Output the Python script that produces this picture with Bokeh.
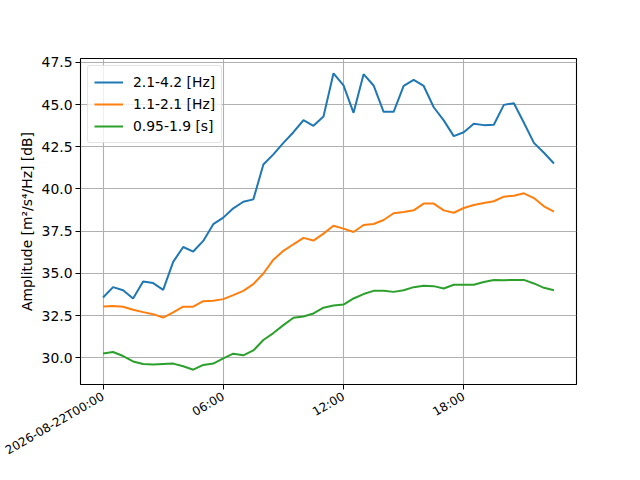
import numpy as np
import pandas as pd
from bokeh.plotting import figure
from bokeh.models import (ColumnDataSource, Range1d, FixedTicker, CustomJSTickFormatter,
                          SingleIntervalTicker, NumeralTickFormatter, Legend, LegendItem)
from bokeh.embed import file_html
from bokeh.resources import INLINE

start = "2026-08-22T00:00"
step_minutes = 30
tick_hours = [0, 6, 12, 18]
names = ["2.1-4.2 [Hz]", "1.1-2.1 [Hz]", "0.95-1.9 [s]"]
colors = ["#1f77b4", "#ff7f0e", "#2ca02c"]

band_a = [33.57, 34.18, 34.00, 33.51, 34.51, 34.42, 34.02, 35.68, 36.56, 36.29, 36.92, 37.91,
          38.30, 38.85, 39.24, 39.38, 41.45, 42.05, 42.73, 43.36, 44.07, 43.74, 44.29, 46.85,
          46.14, 44.51, 46.80, 46.13, 44.57, 44.57, 46.10, 46.46, 46.10, 44.84, 44.06, 43.13,
          43.36, 43.86, 43.78, 43.80, 44.98, 45.08, 43.92, 42.73, 42.14, 41.51]
band_b = [33.03, 33.07, 33.02, 32.84, 32.70, 32.58, 32.38, 32.68, 33.02, 33.02, 33.35, 33.37,
          33.47, 33.71, 33.96, 34.36, 34.99, 35.81, 36.33, 36.72, 37.10, 36.94, 37.35, 37.82,
          37.65, 37.45, 37.86, 37.92, 38.16, 38.56, 38.63, 38.73, 39.13, 39.13, 38.73, 38.59,
          38.87, 39.05, 39.17, 39.27, 39.54, 39.60, 39.74, 39.46, 38.97, 38.65]
band_c = [30.25, 30.34, 30.10, 29.78, 29.63, 29.59, 29.63, 29.65, 29.49, 29.29, 29.57, 29.65,
          29.96, 30.24, 30.14, 30.43, 31.05, 31.46, 31.93, 32.37, 32.44, 32.62, 32.96, 33.09,
          33.15, 33.51, 33.77, 33.96, 33.96, 33.90, 34.00, 34.18, 34.26, 34.24, 34.10, 34.32,
          34.32, 34.32, 34.49, 34.61, 34.59, 34.61, 34.61, 34.40, 34.14, 34.00]
series = [band_a, band_b, band_c]

times = pd.date_range(start, periods=len(band_a), freq=f"{step_minutes}min")
src = ColumnDataSource(dict(t=times, a=band_a, b=band_b, c=band_c))

t0 = times[0].value / 1e6
t1 = times[-1].value / 1e6
pad_x = 0.05 * (t1 - t0)
allv = band_a + band_b + band_c
ymin, ymax = min(allv), max(allv)
pad_y = 0.05 * (ymax - ymin)

FONT = "DejaVu Sans"
FS = "13.9px"

p = figure(width=632, height=472, x_axis_type="datetime", output_backend="svg",
           toolbar_location=None,
           x_range=Range1d(t0 - pad_x, t1 + pad_x),
           y_range=Range1d(ymin - pad_y, ymax + pad_y),
           min_border_left=80, min_border_right=56, min_border_top=58, min_border_bottom=88)
p.background_fill_color = "white"
p.border_fill_color = "white"
p.outline_line_color = "black"
p.outline_line_width = 1.1

renderers = []
for key, col in zip(["a", "b", "c"], colors):
    r = p.line("t", key, source=src, line_color=col, line_width=2.0)
    renderers.append(r)

legend = Legend(items=[LegendItem(label=n, renderers=[r]) for n, r in zip(names, renderers)],
                location="top_left")
legend.label_text_font = FONT
legend.label_text_font_size = FS
legend.label_text_color = "black"
legend.glyph_width = 29
legend.glyph_height = 20
legend.label_height = 20
legend.spacing = 2
legend.padding = 6
legend.margin = 7
legend.label_standoff = 10
legend.border_line_color = "#cccccc"
legend.border_line_width = 1
legend.background_fill_alpha = 0.8
legend.border_radius = 3
p.add_layout(legend)

tick_ms = [t0 + h * 3600 * 1000 for h in tick_hours]
p.xaxis.ticker = FixedTicker(ticks=tick_ms)
p.xaxis.formatter = CustomJSTickFormatter(code="""
const d = new Date(tick);
const hh = String(d.getUTCHours()).padStart(2, '0');
const mm = String(d.getUTCMinutes()).padStart(2, '0');
if (index == 0) { return d.toISOString().slice(0, 10) + 'T' + hh + ':' + mm; }
return hh + ':' + mm;
""")
p.xaxis.major_label_orientation = np.pi / 6

p.yaxis.ticker = SingleIntervalTicker(interval=2.5)
p.yaxis.formatter = NumeralTickFormatter(format="0.0")
p.yaxis.axis_label = "Amplitude [m²/s⁴/Hz] [dB]"
p.yaxis.axis_label_text_font = FONT
p.yaxis.axis_label_text_font_size = FS
p.yaxis.axis_label_text_font_style = "normal"
p.yaxis.axis_label_text_color = "black"
p.yaxis.axis_label_standoff = 4

for ax in (p.xaxis, p.yaxis):
    ax.major_label_text_font = FONT
    ax.major_label_text_font_size = FS
    ax.major_label_text_color = "black"
    ax.axis_line_color = None
    ax.major_tick_line_color = "black"
    ax.major_tick_in = 0
    ax.major_tick_out = 5
    ax.minor_tick_line_color = None
    ax.major_label_standoff = 3

p.xaxis.major_label_text_font_size = "12px"
p.xaxis.major_label_standoff = 6

p.grid.grid_line_color = "#b0b0b0"
p.grid.grid_line_width = 1.1

open("out.html", "w").write(file_html(p, INLINE))
